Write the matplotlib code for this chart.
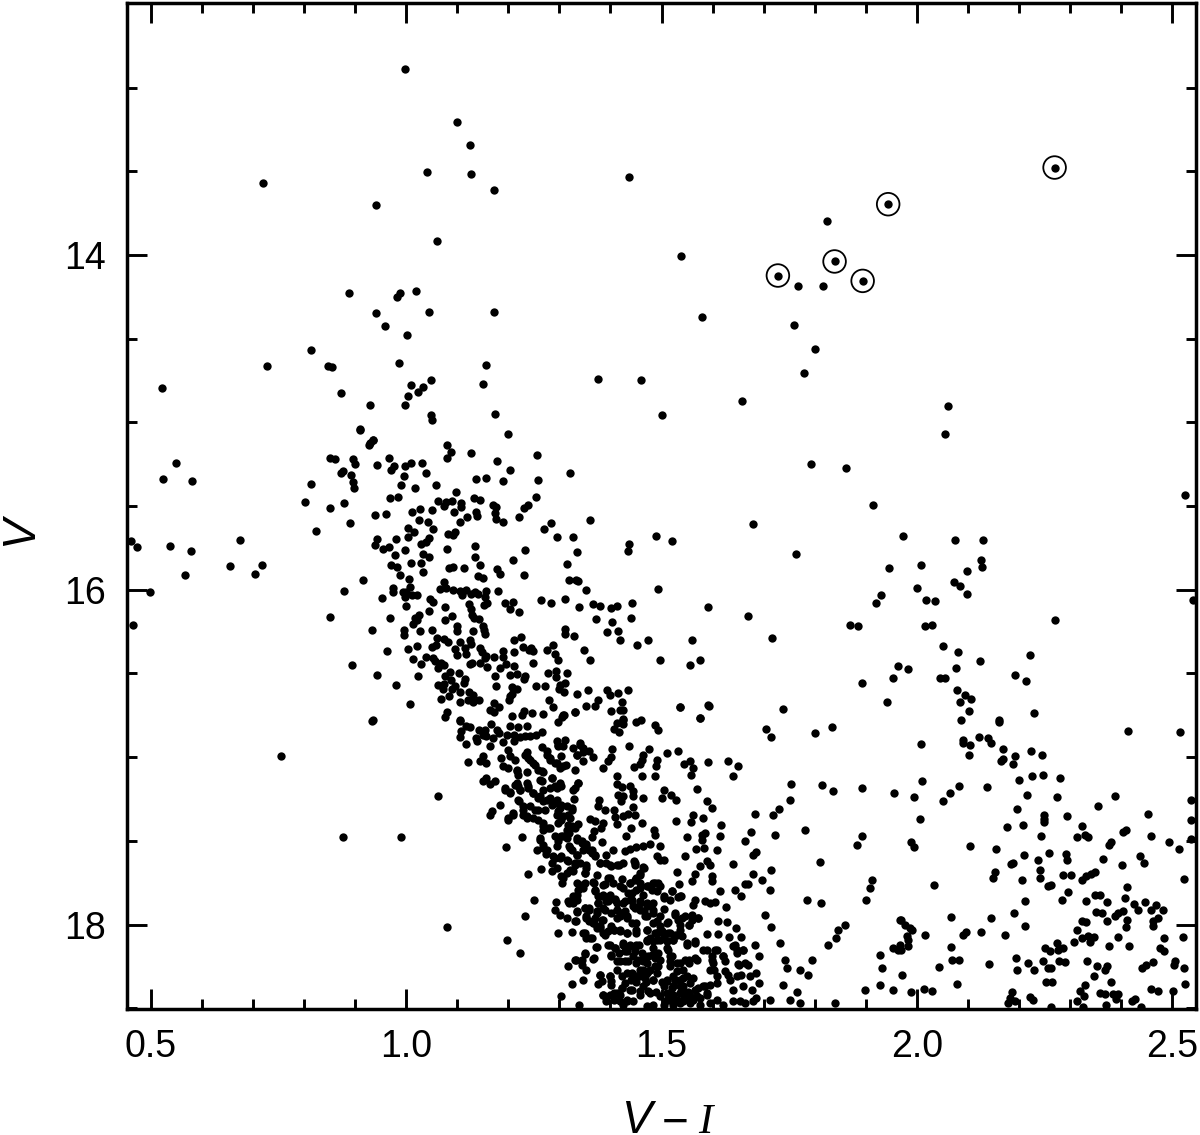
import numpy as np
import matplotlib
matplotlib.use("Agg")
import matplotlib.pyplot as plt
from matplotlib.ticker import FixedLocator

circled = [(2.270,13.478),(1.944,13.697),(1.839,14.039),(1.728,14.123),(1.894,14.155)]

bright = [(0.998,12.890),(1.099,13.206),(1.124,13.344),(1.041,13.505),(1.126,13.515),(0.720,13.571),(1.171,13.610),
(0.941,13.702),(1.060,13.915),(0.887,14.227),(1.019,14.217),(0.987,14.229),(0.982,14.253),(0.941,14.349),(1.044,14.339),
(1.171,14.339),(0.959,14.426),(1.002,14.476),(1.825,13.797),(1.767,14.183),(1.817,14.185),
(.813,14.567),(.847,14.663),(.855,14.669),(.727,14.663),(.522,14.794),(.872,14.824),(.986,14.645),(1.009,14.776),(1.003,14.842),
(.998,14.896),(1.023,14.818),(1.033,14.788),(1.048,14.746),(.929,14.896),(1.048,14.955),(1.156,14.657),(1.150,14.770),(1.174,14.949),
(1.376,14.740),(1.460,14.746),(1.501,14.955),(1.658,14.872),(1.538,14.006),(1.579,14.370),(1.436,13.534),(1.760,14.418),(1.801,14.561),
(1.779,14.704),(2.061,14.901),(2.055,15.069),(.909,15.045),(.935,15.104),(.929,15.122),(1.051,14.985)]

left_side = [(.524,15.337),(.549,15.242),(.580,15.349),(.461,15.707),(.473,15.743),(.537,15.737),(.578,15.767),(.567,15.910),(.498,16.012),
(.465,16.209),(.655,15.857),(.674,15.701),(.717,15.851),(.704,15.904),(.755,16.991),(.876,17.475),(.990,17.475),(1.062,17.230),(1.080,18.012),
(.933,16.782)]

upper_ms = [(.910,15.04),(.935,15.108),(.928,15.134),(1.079,15.134),(1.088,15.18),(1.079,15.21),(1.126,15.186),(1.199,15.07),(1.256,15.196),
(.851,15.214),(.861,15.218),(.896,15.216),(.899,15.25),(.943,15.256),(.967,15.214),(.976,15.26),(.970,15.284),(.998,15.258),(1.009,15.244),
(1.031,15.24),(1.038,15.30),(1.178,15.23),(1.203,15.285),(1.320,15.305),(.877,15.291),(.873,15.305),(.892,15.315),(.996,15.321),(1.136,15.337),
(1.156,15.331),(1.189,15.349),(1.259,15.345),(.813,15.371),(.896,15.359),(.897,15.395),(.989,15.375),(1.017,15.391),(1.059,15.373),(1.098,15.417),
(.801,15.473),(.878,15.479),(.850,15.512),(.969,15.449),(.984,15.447),(1.063,15.471),(1.073,15.498),(1.078,15.475),(1.089,15.471),(1.107,15.481),
(1.108,15.508),(1.132,15.453),(1.145,15.465),(1.169,15.494),(1.176,15.508),(1.255,15.447),(1.238,15.494),(1.230,15.510),(1.011,15.534),(1.026,15.516),
(1.050,15.522),(1.094,15.534),(.939,15.554),(.961,15.548),(1.137,15.538),(1.138,15.558),(1.119,15.564),(1.174,15.542),(1.176,15.576),(1.190,15.598),
(1.221,15.564),(1.024,15.586),(1.042,15.596),(1.106,15.596),(.889,15.604),(1.283,15.600),(1.270,15.634),(.823,15.646),(1.003,15.632),(1.016,15.654),
(1.053,15.636),(1.004,15.682),(1.082,15.666),(1.091,15.674),(1.096,15.656),(1.295,15.684),(1.326,15.686),(.943,15.699),(.980,15.695),(1.045,15.693),
(1.038,15.713),(1.028,15.727),(.938,15.731),(.954,15.755),(.967,15.743),(.997,15.761),(1.079,15.755),(1.134,15.737),(1.232,15.761),(.978,15.791),
(1.033,15.787),(1.044,15.807),(1.134,15.803),(1.210,15.821),(.971,15.853),(.981,15.861),(1.010,15.839),(1.029,15.841),(1.084,15.867),(1.091,15.863),
(1.113,15.867),(1.145,15.851),(1.177,15.875),(1.184,15.908),(1.315,15.847),(.987,15.910),(1.033,15.896),(1.140,15.920),(1.151,15.932),(1.230,15.912),
(.916,15.942),(1.006,15.936),(1.319,15.942),(1.336,15.948),(1.073,15.952)]

mid_ms = [(.878,16.010),(.975,15.992),(.974,16.012),(1.008,15.984),(.994,16.014),(1.000,16.016),(.998,16.046),(1.012,16.032),(1.021,16.034),(1.066,15.996),
(1.078,15.988),(1.091,16.002),(1.106,16.006),(1.110,16.030),(1.117,16.000),(1.127,16.026),(1.134,16.016),(1.141,16.024),(1.157,16.006),(1.155,16.046),
(1.179,16.006),(.953,16.050),(1.046,16.056),(1.052,16.072),(1.159,16.078),(1.153,16.092),(1.194,16.078),(1.210,16.072),(1.264,16.064),(1.283,16.076),
(1.311,16.054),(.999,16.099),(1.076,16.101),(1.123,16.083),(1.127,16.113),(1.204,16.115),(1.221,16.135),(1.338,16.101),(1.044,16.125),(1.025,16.149),
(1.018,16.171),(.851,16.165),(.969,16.169),(1.089,16.159),(1.075,16.179),(1.129,16.149),(1.132,16.167),(1.143,16.173),(1.021,16.183),(1.013,16.203),
(.933,16.241),(.995,16.243),(.995,16.269),(1.027,16.249),(1.050,16.241),(1.099,16.215),(1.099,16.245),(1.131,16.249),(1.150,16.219),(1.153,16.243),
(1.155,16.265),(1.311,16.233),(1.311,16.263),(1.329,16.277),(1.060,16.290),(1.074,16.294),(1.082,16.310),(1.105,16.314),(1.125,16.298),(1.126,16.326),
(1.211,16.300),(1.225,16.282),(1.287,16.330),(1.059,16.328),(1.051,16.340),(1.021,16.338),(1.003,16.354),(.963,16.368),(1.095,16.354),(1.116,16.350),
(1.117,16.382),(1.099,16.390),(1.145,16.350),(1.149,16.372),(1.156,16.394),(1.189,16.368),(1.212,16.370),(1.229,16.344),(1.240,16.358),(1.244,16.346),
(1.248,16.364),(1.276,16.360),(1.291,16.382),(1.014,16.412),(1.039,16.400),(1.053,16.406),(1.057,16.426),(1.028,16.444),(1.171,16.402),(1.189,16.402),
(1.154,16.410),(1.144,16.436),(1.125,16.442),(1.128,16.438),(1.068,16.440),(1.063,16.468),(1.073,16.448),(1.298,16.420),(1.249,16.440),(1.159,16.460),
(1.195,16.442),(1.184,16.470),(1.212,16.458),(.893,16.452),(.943,16.509),(1.023,16.513),(1.085,16.490),(1.104,16.497),(1.076,16.517),(1.087,16.537),
(1.174,16.513),(1.204,16.509),(1.217,16.501),(1.233,16.517),(1.230,16.531),(1.278,16.499),(1.294,16.487),(1.294,16.521),(1.315,16.495),(1.116,16.533),
(1.113,16.557),(.980,16.567),(1.062,16.571),(1.073,16.561),(1.072,16.593),(1.095,16.577),(1.089,16.593),(1.106,16.611),(1.176,16.575),(1.208,16.579),
(1.217,16.593),(1.207,16.623),(1.204,16.637),(1.201,16.661),(1.255,16.575),(1.272,16.577),(1.302,16.567),(1.311,16.557),(1.300,16.593),(1.309,16.609),
(1.334,16.623),(1.083,16.633),(1.068,16.651),(1.123,16.611),(1.130,16.627),(1.106,16.673),(1.121,16.657),(1.130,16.671),(1.142,16.657),(1.007,16.683),
(1.172,16.677),(1.181,16.702),(1.164,16.716),(1.172,16.730),(1.280,16.661),(1.288,16.702),(1.331,16.728),(1.308,16.746),(1.305,16.762),(1.246,16.736),
(1.267,16.742),(1.230,16.726),(1.227,16.750),(1.208,16.756),(1.079,16.732),(1.076,16.762),(.934,16.776),(1.106,16.776)]

ms_a = [(1.353,16.697),(1.370,16.697),(1.401,16.727),(1.425,16.717),(1.537,16.703),(1.593,16.693),(1.576,16.766),(1.330,16.731),(1.309,16.747),(1.298,16.790),
(1.451,16.788),(1.424,16.772),(1.412,16.796),(1.424,16.800),(1.406,16.832),(1.417,16.848),(1.487,16.808),(1.493,16.836),(1.106,16.786),(1.117,16.816),
(1.125,16.820),(1.108,16.846),(1.105,16.880),(1.117,16.924),(1.136,16.886),(1.139,16.906),(1.143,16.836),(1.154,16.836),(1.151,16.866),(1.157,16.876),
(1.166,16.800),(1.178,16.836),(1.182,16.856),(1.170,16.886),(1.164,16.932),(1.197,16.866),(1.211,16.866),(1.223,16.880),(1.233,16.876),(1.242,16.872),
(1.255,16.866),(1.265,16.850),(1.204,16.812),(1.218,16.820),(1.237,16.816),(1.190,16.912),(1.211,16.906),(1.199,16.955),(1.203,16.995),(1.120,17.029),
(1.151,16.991),(1.144,17.021),(1.156,17.035),(1.186,17.007),(1.190,17.055),(1.200,17.065),(1.213,17.015),(1.237,16.969),(1.239,17.005),(1.249,17.035),
(1.259,17.075),(1.268,17.091),(1.216,17.075),(1.218,17.105),(1.236,17.089),(1.265,16.940),(1.276,16.965),(1.282,17.005),(1.291,17.035),(1.301,17.065),
(1.313,17.045),(1.295,16.906),(1.311,16.896),(1.298,16.936),(1.304,16.991),(1.327,16.946),(1.340,16.916),(1.347,16.946),(1.357,16.965),(1.366,17.001),
(1.347,17.025),(1.334,16.985),(1.330,17.075),(1.403,16.950),(1.436,16.936),(1.476,16.951),(1.510,16.977),(1.532,16.965),(1.402,16.999),(1.395,17.025),
(1.386,17.065),(1.464,16.985),(1.461,17.015),(1.458,17.039),(1.447,17.061),(1.492,17.015),(1.489,17.051),(1.487,17.111),(1.462,17.111),(1.544,17.039),
(1.556,17.021),(1.561,17.065),(1.558,17.109),(1.592,17.031),(1.630,17.025),(1.649,17.055),(1.641,17.113),(1.413,17.113),(1.151,17.145),(1.157,17.125),
(1.174,17.141),(1.164,17.159),(1.193,17.184),(1.203,17.210),(1.219,17.170),(1.223,17.198),(1.219,17.254),(1.237,17.155),(1.239,17.184),(1.249,17.214),
(1.262,17.135),(1.285,17.125),(1.301,17.155),(1.295,17.184),(1.282,17.184),(1.268,17.194),(1.262,17.234),(1.275,17.254),(1.337,17.155),(1.327,17.194),
(1.413,17.158),(1.422,17.178),(1.438,17.174),(1.445,17.204),(1.444,17.234),(1.415,17.224),(1.425,17.234),(1.421,17.264),(1.464,17.246),(1.500,17.246),
(1.505,17.198),(1.518,17.228),(1.528,17.258),(1.569,17.190),(1.589,17.264),(1.598,17.304),(1.378,17.254),(1.376,17.290),(1.389,17.314),(1.329,17.250)]

ms_b = [(1.683,17.340),(1.184,17.288),(1.167,17.324),(1.165,17.348),(1.210,17.344),(1.200,17.373),(1.229,17.294),(1.242,17.294),(1.252,17.314),(1.229,17.344),
(1.237,17.363),(1.259,17.373),(1.268,17.393),(1.278,17.423),(1.268,17.433),(1.291,17.274),(1.301,17.304),(1.295,17.344),(1.304,17.373),(1.317,17.403),
(1.324,17.304),(1.317,17.344),(1.407,17.314),(1.409,17.357),(1.412,17.399),(1.425,17.353),(1.435,17.338),(1.444,17.298),(1.448,17.344),(1.359,17.369),
(1.370,17.383),(1.386,17.393),(1.381,17.423),(1.368,17.443),(1.363,17.477),(1.462,17.391),(1.440,17.423),(1.430,17.469),(1.528,17.383),(1.562,17.344),
(1.558,17.389),(1.581,17.365),(1.617,17.405),(1.675,17.447),(1.664,17.503),(1.486,17.437),(1.487,17.463),(1.585,17.453),(1.579,17.463),(1.579,17.493),
(1.615,17.469),(1.550,17.477),(1.568,17.549),(1.584,17.543),(1.608,17.553),(1.227,17.477),(1.195,17.539),(1.291,17.469),(1.308,17.473),(1.318,17.453),
(1.331,17.423),(1.337,17.397),(1.262,17.483),(1.268,17.523),(1.257,17.557),(1.274,17.576),(1.298,17.503),(1.295,17.533),(1.318,17.529),(1.324,17.553),
(1.334,17.582),(1.334,17.483),(1.344,17.503),(1.353,17.517),(1.350,17.543),(1.363,17.553),(1.370,17.582),(1.384,17.507),(1.497,17.533),(1.477,17.517),
(1.464,17.533),(1.451,17.537),(1.438,17.549),(1.429,17.562),(1.392,17.582),(1.405,17.553),(1.379,17.632),(1.392,17.632),(1.402,17.652),(1.412,17.646),
(1.425,17.632),(1.447,17.622),(1.449,17.646),(1.491,17.588),(1.505,17.612),(1.497,17.612),(1.546,17.592),(1.680,17.582),(1.686,17.568),(1.589,17.622),
(1.595,17.642),(1.575,17.652),(1.641,17.640),(1.288,17.592),(1.285,17.632),(1.295,17.662),(1.285,17.682),(1.301,17.602),(1.314,17.612),(1.330,17.632),
(1.327,17.682),(1.314,17.692),(1.304,17.712),(1.306,17.752),(1.238,17.700),(1.263,17.666),(1.353,17.642),(1.350,17.692),(1.464,17.658),(1.458,17.692),
(1.451,17.722),(1.458,17.751),(1.531,17.684),(1.534,17.759),(1.566,17.696),(1.560,17.738),(1.598,17.712),(1.598,17.741),(1.679,17.700),(1.373,17.702),
(1.396,17.722),(1.389,17.756),(1.405,17.751),(1.422,17.726),(1.438,17.751),(1.425,17.781),(1.435,17.811),(1.664,17.757),(1.670,17.757),(1.334,17.751),
(1.344,17.771),(1.350,17.751),(1.366,17.747),(1.370,17.791),(1.376,17.831),(1.386,17.821),(1.399,17.821),(1.337,17.791),(1.327,17.831),(1.317,17.861),
(1.327,17.871),(1.334,17.851)]

ms_c = [(1.484,17.751),(1.494,17.751),(1.471,17.771),(1.481,17.791),(1.491,17.801),(1.504,17.831),(1.517,17.851),(1.533,17.835),(1.539,17.831),(1.520,17.801),
(1.451,17.791),(1.464,17.821),(1.438,17.851),(1.458,17.871),(1.445,17.891),(1.425,17.871),(1.615,17.801),(1.643,17.791),(1.656,17.831),(1.566,17.851),
(1.562,17.885),(1.585,17.861),(1.595,17.871),(1.605,17.867),(1.626,17.897),(1.293,17.863),(1.291,17.911),(1.301,17.941),(1.314,17.961),(1.332,17.981),
(1.250,17.853),(1.233,17.951),(1.335,17.923),(1.350,17.901),(1.357,17.901),(1.376,17.871),(1.386,17.901),(1.373,17.931),(1.392,17.861),(1.409,17.845),
(1.402,17.931),(1.412,17.911),(1.419,17.951),(1.422,17.931),(1.432,17.951),(1.412,17.871),(1.458,17.911),(1.471,17.891),(1.468,17.951),(1.484,17.931),
(1.491,17.981),(1.451,17.991),(1.505,17.909),(1.512,17.986),(1.527,17.931),(1.533,17.971),(1.546,17.951),(1.559,17.941),(1.572,17.961),(1.553,18.001),
(1.611,17.981),(1.629,17.987),(1.646,18.018),(1.353,17.951),(1.357,17.981),(1.366,17.991),(1.373,18.020),(1.370,17.961),(1.386,17.971),(1.379,18.010),
(1.386,18.050),(1.297,18.052),(1.325,18.046),(1.347,18.050),(1.353,18.080),(1.363,18.080),(1.396,18.040),(1.406,18.030),(1.419,18.040),(1.432,18.050),
(1.402,18.010),(1.451,18.050),(1.471,18.030),(1.477,18.080),(1.491,18.050),(1.504,18.060),(1.517,18.050),(1.530,18.060),(1.536,18.030),(1.497,18.030),
(1.471,18.100),(1.491,18.090),(1.510,18.100),(1.523,18.090),(1.590,18.054),(1.610,18.058),(1.632,18.074),(1.656,18.074),(1.644,18.120),(1.197,18.090),
(1.223,18.170),(1.399,18.124),(1.409,18.140),(1.402,18.190),(1.425,18.120),(1.438,18.130),(1.455,18.124),(1.429,18.160),(1.445,18.190),(1.461,18.170),
(1.484,18.140),(1.474,18.190),(1.487,18.200),(1.429,18.220),(1.412,18.220),(1.464,18.220),(1.372,18.136),(1.350,18.174),(1.366,18.205),(1.332,18.209),
(1.317,18.245),(1.344,18.239),(1.353,18.269),(1.347,18.329),(1.325,18.356),(1.379,18.299),(1.376,18.355),(1.399,18.309),(1.402,18.359)]

ms_d = [(1.432,18.289),(1.445,18.299),(1.458,18.309),(1.477,18.269),(1.464,18.269),(1.494,18.249),(1.451,18.229),(1.513,18.150),(1.520,18.190),(1.517,18.219),
(1.536,18.229),(1.553,18.209),(1.569,18.209),(1.549,18.120),(1.566,18.110),(1.589,18.150),(1.608,18.150),(1.621,18.190),(1.598,18.190),(1.601,18.229),
(1.595,18.269),(1.647,18.170),(1.660,18.150),(1.649,18.235),(1.670,18.239),(1.683,18.120),(1.690,18.190),(1.625,18.279),(1.634,18.329),(1.647,18.305),
(1.673,18.309),(1.686,18.289),(1.690,18.349),(1.660,18.369),(1.641,18.389),(1.523,18.309),(1.536,18.329),(1.549,18.309),(1.562,18.319),(1.510,18.339),
(1.523,18.369),(1.543,18.369),(1.556,18.349),(1.582,18.369),(1.595,18.359),(1.608,18.349),(1.471,18.289),(1.484,18.329),(1.464,18.369),(1.477,18.408),
(1.458,18.418),(1.438,18.388),(1.422,18.378),(1.429,18.349),(1.386,18.418),(1.406,18.408),(1.419,18.418),(1.432,18.458),(1.445,18.458),(1.392,18.458),
(1.338,18.478),(1.304,18.428),(1.504,18.369),(1.510,18.408),(1.497,18.428),(1.523,18.428),(1.536,18.408),(1.556,18.428),(1.569,18.428),(1.589,18.408),
(1.608,18.448),(1.641,18.458),(1.654,18.458),(1.680,18.458),(1.686,18.438),(1.484,18.478),(1.504,18.478),(1.523,18.478),(1.536,18.468),(1.556,18.468),
(1.575,18.478),(1.595,18.468),(1.621,18.478),(1.471,18.488),(1.425,18.478),(1.540,18.390),(1.552,18.400),(1.530,18.450),(1.545,18.445),(1.565,18.390),
(1.575,18.440),(1.515,18.450),(1.500,18.340),(1.490,18.400),(1.450,18.340),(1.470,18.340),(1.440,18.330)]

core_lower = [(1.340,17.632),(1.353,17.662),(1.350,17.692),(1.321,17.672),(1.308,17.721),(1.331,17.642),(1.380,17.632),(1.399,17.642),(1.416,17.642),(1.448,17.632),
(1.465,17.662),(1.458,17.702),(1.448,17.731),(1.367,17.751),(1.386,17.761),(1.399,17.721),(1.419,17.771),(1.438,17.751),(1.442,17.811),(1.458,17.781),
(1.474,17.771),(1.487,17.751),(1.497,17.771),(1.340,17.761),(1.347,17.781),(1.334,17.821),(1.324,17.861),(1.318,17.871),(1.370,17.801),(1.383,17.831),
(1.376,17.871),(1.396,17.861),(1.409,17.851),(1.429,17.861),(1.442,17.851),(1.458,17.861),(1.471,17.871),(1.484,17.871),(1.504,17.841),(1.520,17.801),
(1.536,17.831),(1.350,17.901),(1.357,17.911),(1.373,17.921),(1.389,17.911),(1.412,17.911),(1.429,17.921),(1.448,17.901),(1.465,17.921),(1.484,17.911),
(1.334,17.921),(1.331,17.980),(1.353,17.960),(1.367,17.990),(1.383,17.970),(1.412,17.960),(1.432,17.960),(1.442,17.990),(1.471,17.950),(1.497,17.950),
(1.527,17.940),(1.540,17.960),(1.559,17.970),(1.572,17.960),(1.484,17.990),(1.497,18.010),(1.510,17.990),(1.536,18.000),(1.553,18.000),(1.350,18.050),
(1.360,18.080),(1.380,18.020),(1.389,18.060),(1.406,18.030),(1.419,18.030),(1.432,18.050),(1.451,18.030),(1.471,18.030),(1.487,18.050),(1.500,18.040),
(1.513,18.050),(1.527,18.060),(1.540,18.070),(1.396,18.120),(1.409,18.140),(1.425,18.110),(1.438,18.120),(1.451,18.120),(1.471,18.090),(1.484,18.100),
(1.497,18.090),(1.510,18.100),(1.523,18.090),(1.549,18.110),(1.566,18.100),(1.402,18.179),(1.416,18.169),(1.432,18.159),(1.448,18.159),(1.465,18.189),
(1.481,18.179),(1.494,18.169),(1.510,18.139),(1.419,18.219),(1.435,18.219),(1.455,18.209),(1.471,18.229),(1.487,18.249),(1.497,18.209),(1.517,18.189),
(1.412,18.269),(1.442,18.289),(1.458,18.269),(1.474,18.279),(1.491,18.289),(1.517,18.249),(1.530,18.229),(1.546,18.209),(1.566,18.199),(1.422,18.309),
(1.448,18.309),(1.468,18.319),(1.484,18.328),(1.530,18.279),(1.543,18.269),(1.553,18.229),(1.380,18.299),(1.399,18.309),(1.383,18.338),(1.402,18.338),
(1.422,18.378),(1.510,18.328),(1.527,18.328),(1.543,18.319),(1.536,18.368),(1.520,18.378),(1.442,18.388),(1.458,18.398),(1.474,18.398),(1.412,18.408),
(1.399,18.418),(1.386,18.418),(1.523,18.418),(1.536,18.408),(1.549,18.428),(1.562,18.448),(1.510,18.448),(1.523,18.458),(1.543,18.458),(1.432,18.448),
(1.419,18.458),(1.406,18.448),(1.585,18.368),(1.572,18.378),(1.589,18.418),(1.344,18.209),(1.331,18.209),(1.350,18.169),(1.367,18.199),(1.373,18.133),
(1.582,18.149),(1.605,18.149),(1.621,18.189),(1.598,18.209),(1.624,18.219),(1.631,18.299),(1.608,18.309),(1.602,18.269),(1.651,18.239),(1.664,18.229),
(1.641,18.129),(1.647,18.149),(1.660,18.149)]

core_upper = [(1.233,16.986),(1.242,17.015),(1.252,17.045),(1.265,17.085),(1.275,16.986),(1.282,17.015),(1.295,17.035),(1.308,17.055),(1.298,16.926),(1.308,16.936),
(1.340,16.926),(1.334,16.986),(1.347,16.966),(1.216,17.085),(1.216,17.155),(1.239,17.175),(1.249,17.214),(1.259,17.244),(1.268,17.264),(1.282,17.244),
(1.295,17.254),(1.304,17.284),(1.314,17.294),(1.324,17.314),(1.229,17.314),(1.236,17.354),(1.249,17.364),(1.259,17.314),(1.272,17.314),(1.285,17.284),
(1.298,17.324),(1.308,17.354),(1.321,17.364),(1.268,17.413),(1.282,17.423),(1.298,17.393),(1.314,17.433),(1.324,17.413),(1.304,17.473),(1.314,17.483),
(1.334,17.493),(1.344,17.513),(1.353,17.533),(1.363,17.573),(1.370,17.593),(1.347,17.553),(1.357,17.553),(1.265,17.145),(1.285,17.125),(1.291,17.175),
(1.304,17.175),(1.337,17.155),(1.331,17.185),(1.213,17.165),(1.223,17.195),(1.193,17.195),(1.203,17.214),(1.220,17.264),(1.200,17.364),(1.210,17.334),
(1.321,17.543),(1.334,17.583),(1.291,17.603),(1.304,17.593),(1.317,17.622),(1.268,17.543),(1.262,17.493),(1.275,17.553)]

red_mid = [(1.793,15.248),(1.861,15.272),(1.914,15.493),(1.679,15.606),(1.763,15.785),(1.973,15.678),(1.946,15.869),(2.075,15.701),(2.525,15.433),
(1.360,15.582),(1.436,15.725),(1.434,15.767),(1.489,15.678),(1.520,15.707),(1.334,15.773),(1.333,15.940),(1.493,15.994),(1.591,16.101),(1.352,16.000),
(1.366,16.084),(1.380,16.096),(1.401,16.108),(1.413,16.096),(1.442,16.078),(1.372,16.173),(1.393,16.251),(1.403,16.191),(1.415,16.245),(1.440,16.167),
(1.419,16.299),(1.452,16.328),(1.474,16.299),(1.497,16.418),(1.560,16.299),(1.669,16.155),(1.716,16.287),(1.575,16.418),(1.556,16.448),(1.348,16.358),
(1.360,16.418),(1.356,16.597),(1.376,16.657),(1.399,16.627),(1.415,16.615),(1.423,16.669),(1.393,16.597),(1.434,16.597),(1.419,16.716),(1.425,16.776),
(1.460,16.776),(1.536,16.699),(1.575,16.764),(1.591,16.687),(1.705,16.830),(1.715,16.878),(1.738,16.711),(1.834,16.818),(1.801,16.854),(1.893,16.555),
(1.942,16.669),(1.954,16.525),(1.963,16.454),(1.983,16.472),(1.869,16.209),(1.885,16.215),(1.920,16.078),(1.930,16.030),(2.008,15.851),(2.000,15.988),
(2.018,16.060),(2.036,16.066),(2.016,16.215),(2.030,16.209),(2.073,15.955),(2.085,15.978),(2.098,16.024),(2.128,15.863),(2.126,15.821),(2.130,15.701),
(2.098,15.887),(2.271,16.179),(2.541,16.060),(2.051,16.334),(2.081,16.370),(2.124,16.424),(2.222,16.388),(2.192,16.507),(2.214,16.543),(2.045,16.525),
(2.055,16.525),(2.077,16.466),(2.079,16.597),(2.095,16.627),(2.106,16.651)]

gap_lower = [(1.814,17.164),(1.893,17.182),(1.836,17.200),(1.754,17.158),(1.955,17.212),(1.752,17.254),(1.718,17.343),(1.730,17.307),(1.722,17.463),(1.781,17.433),
(1.893,17.469),(1.883,17.522),(1.810,17.624),(1.714,17.672),(1.697,17.731),(1.912,17.731),(1.908,17.779),(1.900,17.851),(1.785,17.851),(1.812,17.869),
(1.712,17.791),(1.703,17.940),(1.714,18.012),(1.732,18.108),(1.742,18.209),(1.746,18.257),(1.771,18.269),(1.787,18.299),(1.738,18.358),(1.765,18.400),
(1.846,18.030),(1.859,18.000),(1.842,18.078),(1.826,18.120),(1.795,18.209),(1.928,18.179),(1.932,18.257),(1.954,18.138),(1.967,17.970),(1.977,18.000),
(1.991,18.030),(1.983,18.090),(1.967,18.120),(1.963,18.149),(1.928,18.358),(1.899,18.388),(1.840,18.466),(1.954,18.388),(1.752,18.448),(1.712,18.448),
(1.771,18.466),(1.664,18.466),(1.677,18.388),(1.656,18.299)]

red_low_a = [(2.085,16.671),(2.102,16.723),(2.087,16.780),(2.161,16.776),(2.161,16.790),(2.230,16.735),(2.413,16.846),(2.515,16.850),(2.009,16.920),(2.090,16.900),
(2.091,16.916),(2.104,16.928),(2.122,16.880),(2.139,16.886),(2.145,16.916),(2.103,16.985),(2.169,16.952),(2.192,16.995),(2.169,17.009),(2.165,17.025),
(2.189,17.041),(2.224,16.965),(2.245,16.989),(2.010,17.141),(2.200,17.135),(2.225,17.113),(2.248,17.105),(2.280,17.125),(2.083,17.172),(2.065,17.212),
(2.052,17.260),(1.994,17.236),(2.137,17.176),(2.215,17.228),(2.275,17.236),(2.388,17.234),(2.355,17.290),(2.197,17.310),(2.006,17.367),(2.249,17.348),
(2.249,17.369),(2.249,17.389),(2.295,17.350),(2.453,17.342),(2.177,17.417),(2.208,17.403),(2.323,17.411),(2.409,17.433),(2.404,17.449),(2.243,17.473),
(2.313,17.477),(2.329,17.467),(2.336,17.477),(2.458,17.469),(2.538,17.254),(2.538,17.377),(2.538,17.489),(2.495,17.509),(2.514,17.551),(1.989,17.507),
(1.994,17.535),(2.105,17.529),(2.155,17.551),(2.380,17.509),(2.377,17.525),(2.210,17.586),(2.259,17.572),(2.293,17.580),(2.294,17.616),(2.237,17.616),
(2.364,17.608),(2.438,17.592),(2.446,17.632),(2.403,17.644),(2.189,17.632),(2.184,17.638),(2.153,17.684),(2.150,17.720),(2.241,17.672),(2.241,17.720),
(2.206,17.736),(2.287,17.706),(2.303,17.706),(2.349,17.684),(2.342,17.698),(2.331,17.712),(2.323,17.732),(2.524,17.726),(2.258,17.767),(2.262,17.763),
(2.034,17.765),(2.412,17.775)]

red_low_b = [(2.297,17.807),(2.284,17.853),(2.213,17.857),(2.349,17.821),(2.359,17.821),(2.331,17.861),(2.372,17.867),(2.407,17.841),(2.426,17.877),(2.447,17.863),
(2.468,17.885),(2.458,17.911),(2.434,17.915),(2.483,17.913),(2.352,17.925),(2.363,17.931),(2.388,17.947),(2.395,17.931),(2.404,17.921),(2.190,17.929),
(2.068,17.953),(2.145,17.959),(2.323,17.980),(2.331,17.984),(2.372,17.980),(2.412,17.974),(2.410,18.014),(2.473,17.958),(2.463,17.980),(2.463,18.010),
(2.212,18.010),(1.987,18.020),(1.981,18.066),(1.970,17.974),(2.016,18.060),(2.096,18.042),(2.091,18.062),(2.126,18.046),(2.173,18.064),(2.313,18.034),
(2.522,18.072),(2.484,18.078),(2.394,18.072),(2.323,18.080),(2.336,18.066),(2.347,18.074),(2.340,18.104),(2.308,18.104),(2.376,18.126),(2.416,18.130),
(2.274,18.110),(2.251,18.140),(2.261,18.160),(2.277,18.154),(2.287,18.140),(2.068,18.136),(1.983,18.130),(1.970,18.154),(2.476,18.138),(2.484,18.160),
(2.069,18.213),(2.083,18.209),(2.141,18.235),(2.043,18.251),(2.195,18.201),(2.218,18.229),(2.248,18.219),(2.279,18.215),(2.290,18.225),(2.334,18.219),
(2.197,18.271),(2.230,18.271),(2.258,18.261),(2.262,18.261),(2.354,18.245),(2.372,18.249),(2.369,18.269),(2.449,18.239),(2.442,18.259),(2.463,18.225),
(2.506,18.219),(2.504,18.243),(2.524,18.257),(1.972,18.303),(2.348,18.309),(2.380,18.345),(2.253,18.341),(2.265,18.345),(2.079,18.357),(2.330,18.363),
(2.525,18.357),(2.014,18.386),(2.030,18.396),(1.989,18.402),(2.186,18.400),(2.182,18.438),(2.179,18.468),(2.192,18.458),(2.222,18.432),(2.228,18.452),
(2.458,18.384),(2.473,18.398),(2.501,18.398),(2.320,18.398),(2.328,18.428),(2.313,18.458),(2.359,18.408),(2.369,18.414),(2.385,18.414),(2.395,18.414),
(2.390,18.442),(2.427,18.442),(2.422,18.458),(2.370,18.483),(2.326,18.490),(2.263,18.490),(2.440,18.490)]

x_major = [0.5, 1.0, 1.5, 2.0, 2.5]
x_minor = [0.6, 0.7, 0.8, 0.9, 1.1, 1.2, 1.3, 1.4, 1.6, 1.7, 1.8, 1.9, 2.1, 2.2, 2.3, 2.4]
y_major = [14, 16, 18]
y_minor = [13, 13.5, 14.5, 15, 15.5, 16.5, 17, 17.5, 18.5]

plt.rcParams['font.family'] = ['Liberation Sans', 'DejaVu Sans']
fig = plt.figure(figsize=(12, 11.35), dpi=100)
W, H = 1200, 1135
ax = fig.add_axes([127/W, 1-1008.5/H, (1195.5-127)/W, (1008.5-2.8)/H])

groups = [bright, left_side, upper_ms, mid_ms, ms_a, ms_b, ms_c, ms_d, core_lower, core_upper,
          red_mid, gap_lower, red_low_a, red_low_b, circled]
stars = np.array([p for g in groups for p in g])
ax.scatter(stars[:, 0], stars[:, 1], s=36, c='black', linewidths=0, zorder=3)
c = np.array(circled)
ax.scatter(c[:, 0], c[:, 1], s=265, facecolors='none', edgecolors='black', linewidths=1.3, zorder=3)

ax.set_xlim(0.453, 2.546)
ax.set_ylim(18.501, 12.494)
ax.xaxis.set_major_locator(FixedLocator(x_major))
ax.xaxis.set_minor_locator(FixedLocator(x_minor))
ax.yaxis.set_major_locator(FixedLocator(y_major))
ax.yaxis.set_minor_locator(FixedLocator(y_minor))
ax.set_xticklabels(['0.5', '1.0', '1.5', '2.0', '2.5'])
ax.set_yticklabels(['14', '16', '18'])
ax.tick_params(which='both', direction='in', top=True, right=True, width=2.1, labelsize=27)
ax.tick_params(axis='x', which='major', length=14.5, pad=15)
ax.tick_params(axis='y', which='major', length=14.5, pad=15)
ax.tick_params(which='minor', length=7.5)
for s in ax.spines.values():
    s.set_linewidth(2.5)

fig.text(636/W, 1-1133/H, 'V', fontsize=33, style='italic', ha='center', va='baseline')
fig.text(675.5/W, 1-1136/H, '\u2212', fontsize=33, ha='center', va='baseline')
fig.text(705/W, 1-1133/H, 'I', fontsize=31, style='italic', family='Liberation Serif', ha='center', va='baseline')
fig.text(32/W, 1-531/H, 'V', fontsize=33, style='italic', ha='center', va='baseline',
         rotation=90, rotation_mode='anchor')

fig.savefig('out.png', dpi=100)
